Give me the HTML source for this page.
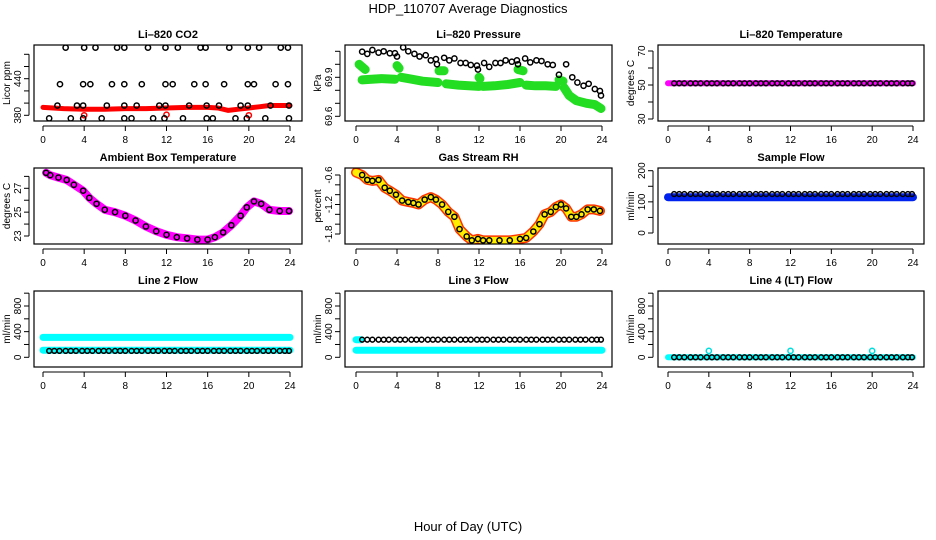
<!DOCTYPE html>
<html><head><meta charset="utf-8"><title>HDP_110707 Average Diagnostics</title>
<style>
html,body{margin:0;padding:0;background:#fff;}
svg{display:block;font-family:"Liberation Sans",Arial,sans-serif;}
</style></head>
<body>
<svg id="chart" width="936" height="540" viewBox="0 0 936 540">
<rect x="0" y="0" width="936" height="540" fill="#fff"/>
<text x="468" y="13" text-anchor="middle" font-size="13">HDP_110707  Average Diagnostics</text>
<text x="468" y="531" text-anchor="middle" font-size="13">Hour of Day (UTC)</text>
</svg>
<script>
// ---------- shared categories ----------
const hours = [0.6,1.1,1.6,2.2,2.7,3.2,3.8,4.3,4.8,5.4,5.9,6.4,7.0,7.5,8.0,8.6,9.1,9.6,10.2,10.7,11.2,11.8,12.3,12.8,13.4,13.9,14.4,15.0,15.5,16.0,16.6,17.1,17.6,18.2,18.7,19.2,19.8,20.3,20.8,21.4,21.9,22.4,23.0,23.5,23.9];
const xTicks = [0,4,8,12,16,20,24];

// ---------- CO2 ----------
const co2TopHours = [2.2,4.0,5.1,7.2,7.9,10.2,11.9,13.1,15.3,15.8,18.1,19.9,21.0,23.1,23.8];
const co2TopValues = [491,491,491,491,491,491,491,491,491,491,491,491,491,491,491];
const co2MidHours = [1.65,3.9,4.6,6.7,7.9,9.6,11.9,12.6,14.7,15.8,17.6,19.9,20.5,22.6,23.8];
const co2MidValues = [431,431,431,431,431,431,431,431,431,431,431,431,431,431,431];
const co2LowHours = [1.4,3.3,3.9,6.2,7.9,9.1,11.3,11.9,14.2,15.9,17.1,19.2,19.9,22.1,23.9];
const co2LowValues = [396,396,396,396,396,396,396,396,396,396,396,396,396,396,396];
const co2BotHours = [0.6,2.7,3.9,5.7,7.9,8.6,10.7,11.8,13.6,15.9,16.5,18.7,19.8,21.6,23.9];
const co2BotValues = [375,375,375,375,375,375,375,375,375,375,375,375,375,375,375];
const co2BandHours = [0,2,4,6,8,10,12,14,16,17,18,19,20,21,22,24];
const co2BandValues = [393,391,390,390,391,391,392,393,393,392,388,390,392,394,396,396];
const co2RedHours = [4,12,20];
const co2RedValues = [380,381,380];

// ---------- Pressure ----------
const presHours = [0.6,1.1,1.6,2.2,2.7,3.3,3.8,4.0,4.6,5.1,5.7,6.2,6.8,7.3,7.8,7.9,8.6,9.1,9.6,10.2,10.7,11.2,11.8,11.9,12.5,13.0,13.6,14.1,14.6,15.2,15.7,15.8,16.5,17.0,17.6,18.1,18.7,19.2,19.8,20.5,21.1,21.6,22.2,22.7,23.3,23.8,23.9];
const presValues = [70.097,70.08,70.11,70.09,70.1,70.085,70.085,70.06,70.13,70.1,70.08,70.06,70.07,70.03,70.04,70.0,70.05,70.03,70.045,70.01,70.01,69.995,69.99,69.96,70.01,69.98,70.01,70.01,70.03,70.02,70.03,70.0,70.045,70.015,70.03,70.025,70.0,69.995,69.92,70.0,69.9,69.86,69.835,69.85,69.81,69.795,69.76];
const presGreenSegHours = [[0.3,0.9],[0.6,1.5,2.5,3.8],[4.0,4.2],[4.4,5.5,6.5,8.0],[8.1,8.6],[8.8,10,11,12],[12.0,12.1],[12.4,13.5,14.8,16.0],[15.8,16.3],[16.6,17.5,18.5,19.5],[19.8,20.2],[20.3,20.8,21.5,22.5,23.3,23.9]];
const presGreenSegValues = [[70.0,69.96],[69.88,69.885,69.89,69.885],[69.99,69.97],[69.9,69.885,69.87,69.86],[69.95,69.95],[69.85,69.84,69.835,69.83],[69.9,69.89],[69.83,69.835,69.845,69.86],[69.96,69.95],[69.84,69.835,69.835,69.83],[69.88,69.87],[69.82,69.76,69.72,69.7,69.69,69.66]];

// ---------- Li-820 Temperature ----------
const tempValues = [51,51,51,51,51,51,51,51,51,51,51,51,51,51,51,51,51,51,51,51,51,51,51,51,51,51,51,51,51,51,51,51,51,51,51,51,51,51,51,51,51,51,51,51,51];
const tempBandHours = [0,24];
const tempBandValues = [51,51];

// ---------- Ambient ----------
const ambHours = [0.3,0.7,1.5,2.3,3.0,3.9,4.5,5.2,6.0,7.0,8.0,9.0,10.0,11.0,12.0,13.0,14.0,15.0,16.0,16.7,17.5,18.3,19.2,19.8,20.5,21.2,22.0,23.0,23.9];
const ambValues = [28.3,28.1,27.9,27.7,27.3,26.8,26.2,25.7,25.2,25.0,24.7,24.3,23.8,23.4,23.1,22.9,22.8,22.7,22.7,22.9,23.3,23.9,24.7,25.4,25.9,25.7,25.2,25.1,25.1];

// ---------- RH ----------
const rhHours = [0.0,0.6,1.1,1.6,2.2,2.8,3.3,3.9,4.5,5.1,5.6,6.1,6.7,7.3,7.8,8.4,9.0,9.6,10.1,10.8,11.3,11.9,12.4,13.0,14.0,15.0,16.0,16.6,17.3,17.9,18.4,19.0,19.5,20.0,20.5,21.0,21.5,22.0,22.6,23.2,23.8];
const rhValues = [-0.55,-0.6,-0.7,-0.72,-0.7,-0.86,-0.92,-1.0,-1.12,-1.15,-1.17,-1.2,-1.1,-1.05,-1.1,-1.2,-1.35,-1.45,-1.7,-1.85,-1.93,-1.9,-1.93,-1.93,-1.93,-1.93,-1.9,-1.88,-1.75,-1.6,-1.4,-1.35,-1.25,-1.2,-1.28,-1.45,-1.45,-1.4,-1.3,-1.3,-1.33];

// ---------- Flows ----------
const sampleValues = [125,125,125,125,125,125,125,125,125,125,125,125,125,125,125,125,125,125,125,125,125,125,125,125,125,125,125,125,125,125,125,125,125,125,125,125,125,125,125,125,125,125,125,125,125];
const sampleBandHours = [0,24];
const sampleBandValues = [115,115];
const line2Values = [100,100,100,100,100,100,100,100,100,100,100,100,100,100,100,100,100,100,100,100,100,100,100,100,100,100,100,100,100,100,100,100,100,100,100,100,100,100,100,100,100,100,100,100,100];
const line2BandHours = [0,24];
const line2BandHighValues = [310,310];
const line2BandLowValues = [110,110];
const line3Values = [275,275,275,275,275,275,275,275,275,275,275,275,275,275,275,275,275,275,275,275,275,275,275,275,275,275,275,275,275,275,275,275,275,275,275,275,275,275,275,275,275,275,275,275,275];
const line3BandHours = [0,24];
const line3BandLowValues = [110,110];
const line3ShortHours = [0,0.5];
const line3ShortValues = [275,275];
const line4Values = [0,0,0,0,0,0,0,0,0,0,0,0,0,0,0,0,0,0,0,0,0,0,0,0,0,0,0,0,0,0,0,0,0,0,0,0,0,0,0,0,0,0,0,0,0];
const line4BandHours = [0,24];
const line4BandValues = [0,0];
const line4SpikeHours = [4,12,20];
const line4SpikeValues = [100,100,100];

// ---------- rendering ----------
const NS = "http://www.w3.org/2000/svg";
const svg = document.getElementById('chart');
function mk(tag, attrs, parent){
  const e = document.createElementNS(NS, tag);
  for (const k in attrs) e.setAttribute(k, attrs[k]);
  (parent||svg).appendChild(e);
  return e;
}
const cols = [[34,302,43,290],[345,612,356,602],[658,924,668,913]];
const rows = [[45,121],[168,244],[291,367]];

function makePanel(c, r, name, title, ylab, yr, ticks, labels){
  const [L,R,x0,x24] = cols[c];
  const [T,B] = rows[r];
  const g = mk('g', {});
  
  
  const xs = h => x0 + (x24 - x0) * h / 24;
  const ys = v => yr[1] + (v - yr[0]) * (yr[3] - yr[1]) / (yr[2] - yr[0]);
  const t = mk('text', {x:(L+R)/2, y:T-7, 'text-anchor':'middle', 'font-size':11, 'font-weight':'bold'}, g);
  t.textContent = title;
  
  
  const yl = mk('text', {transform:`translate(${L-24},${(T+B)/2}) rotate(-90)`, 'text-anchor':'middle', 'font-size':10}, g);
  yl.textContent = ylab;
  
  
  const xa = mk('g', {}, g);
  
  
  mk('line', {x1:xs(0), x2:xs(24), y1:B+5, y2:B+5, stroke:'#000', 'stroke-width':1}, xa);
  xTicks.forEach(h => {
    mk('line', {x1:xs(h), x2:xs(h), y1:B+5, y2:B+10, stroke:'#000', 'stroke-width':1}, xa);
    const tl = mk('text', {x:xs(h), y:B+22, 'text-anchor':'middle', 'font-size':10}, xa);
    tl.textContent = h;
  });
  const ya = mk('g', {}, g);
  
  
  mk('line', {x1:L-5, x2:L-5, y1:ys(ticks[0]), y2:ys(ticks[ticks.length-1]), stroke:'#000', 'stroke-width':1}, ya);
  ticks.forEach(v => mk('line', {x1:L-10, x2:L-5, y1:ys(v), y2:ys(v), stroke:'#000', 'stroke-width':1}, ya));
  labels.forEach(v => {
    const tl = mk('text', {transform:`translate(${L-13},${ys(v)}) rotate(-90)`, 'text-anchor':'middle', 'font-size':10}, ya);
    tl.textContent = v;
  });
  const clip = 'clip-' + name;
  const cp = mk('clipPath', {id:clip}, g);
  mk('rect', {x:L, y:T, width:R-L, height:B-T}, cp);
  const plot = mk('g', {'clip-path':`url(#${clip})`}, g);
  mk('rect', {x:L, y:T, width:R-L, height:B-T, fill:'none', stroke:'#000', 'stroke-width':1.2}, g);
  return {g:plot, xs, ys};
}
function band(p, hs, vs, color, w, name){
  const pts = hs.map((h,i)=>p.xs(h).toFixed(1)+','+p.ys(vs[i]).toFixed(1)).join(' ');
  const e = mk('polyline', {points:pts, fill:'none', stroke:color, 'stroke-width':w, 'stroke-linecap':'round', 'stroke-linejoin':'round'}, p.g);
  
  
}
function dots(p, hs, vs, color, name, r){
  const g = mk('g', {}, p.g);
  
  
  hs.forEach((h,i) => {
    const c = mk('circle', {cx:p.xs(h), cy:p.ys(vs[i]), r:r||2.6, fill:'none', stroke:color, 'stroke-width':1.5}, g);
    
    
  });
}

// Panel 1: CO2
let p = makePanel(0,0,'co2','Li\u2013820 CO2','Licor ppm',[380,115.3,440,78.7],[380,400,420,440,460,480],[380,440]);
band(p, co2BandHours, co2BandValues, '#ff0000', 5, 'co2-red-band');
dots(p, co2RedHours, co2RedValues, '#ff0000', 'co2-red-points');
dots(p, co2TopHours, co2TopValues, '#000', 'co2-top-points');
dots(p, co2MidHours, co2MidValues, '#000', 'co2-mid-points');
dots(p, co2LowHours, co2LowValues, '#000', 'co2-low-points');
dots(p, co2BotHours, co2BotValues, '#000', 'co2-bottom-points');

// Panel 2: Pressure
p = makePanel(1,0,'pressure','Li\u2013820 Pressure','kPa',[69.6,116.3,69.9,77.3],[69.6,69.7,69.8,69.9,70.0,70.1],[69.6,69.9]);
presGreenSegHours.forEach((hs,i)=>band(p, hs, presGreenSegValues[i], '#22dd22', 9, 'pressure-green-band'));
dots(p, presHours, presValues, '#000', 'pressure-points');

// Panel 3: Li-820 Temperature
p = makePanel(2,0,'li820-temp','Li\u2013820 Temperature','degrees C',[30,119,70,51],[30,40,50,60,70],[30,50,70]);
band(p, tempBandHours, tempBandValues, '#ff00ff', 6, 'temp-magenta-band');
dots(p, hours, tempValues, '#000', 'temp-points', 2.4);

// Panel 4: Ambient
p = makePanel(0,1,'ambient','Ambient Box Temperature','degrees C',[23,236,27,188.3],[23,24,25,26,27,28],[23,25,27]);
band(p, ambHours, ambValues, '#ff00ff', 8, 'ambient-magenta-band');
dots(p, ambHours, ambValues, '#000', 'ambient-points');

// Panel 5: RH
p = makePanel(1,1,'rh','Gas Stream RH','percent',[-0.6,175,-1.8,234],[-0.6,-0.8,-1.0,-1.2,-1.4,-1.6,-1.8],[-0.6,-1.2,-1.8]);
band(p, rhHours, rhValues, '#ff3300', 10, 'rh-red-band');
band(p, rhHours, rhValues, '#ffee00', 7, 'rh-yellow-band');
dots(p, rhHours.slice(1), rhValues.slice(1), '#000', 'rh-points');

// Panel 6: Sample Flow
p = makePanel(2,1,'sample-flow','Sample Flow','ml/min',[0,233,200,170.7],[0,50,100,150,200],[0,100,200]);
band(p, sampleBandHours, sampleBandValues, '#0022ee', 8, 'sample-blue-band');
dots(p, hours, sampleValues, '#000', 'sample-points', 2.4);

// Panel 7: Line 2 Flow
p = makePanel(0,2,'line2-flow','Line 2 Flow','ml/min',[0,357.3,800,306],[0,200,400,600,800,1000],[0,400,800]);
band(p, line2BandHours, line2BandHighValues, '#00ffff', 7, 'line2-cyan-high-band');
band(p, line2BandHours, line2BandLowValues, '#00ffff', 7, 'line2-cyan-low-band');
dots(p, hours, line2Values, '#000', 'line2-points', 2.4);

// Panel 8: Line 3 Flow
p = makePanel(1,2,'line3-flow','Line 3 Flow','ml/min',[0,357.3,800,306],[0,200,400,600,800,1000],[0,400,800]);
band(p, line3BandHours, line3BandLowValues, '#00ffff', 7, 'line3-cyan-band');
band(p, line3ShortHours, line3ShortValues, '#00ffff', 7, 'line3-cyan-short');
dots(p, hours, line3Values, '#000', 'line3-points', 2.4);

// Panel 9: Line 4 Flow
p = makePanel(2,2,'line4-flow','Line 4 (LT) Flow','ml/min',[0,357.3,800,306],[0,200,400,600,800,1000],[0,400,800]);
band(p, line4BandHours, line4BandValues, '#00ffff', 6, 'line4-cyan-band');
dots(p, line4SpikeHours, line4SpikeValues, '#00dddd', 'line4-cyan-spikes');
dots(p, hours, line4Values, '#000', 'line4-points', 2.4);
</script>
</body></html>
